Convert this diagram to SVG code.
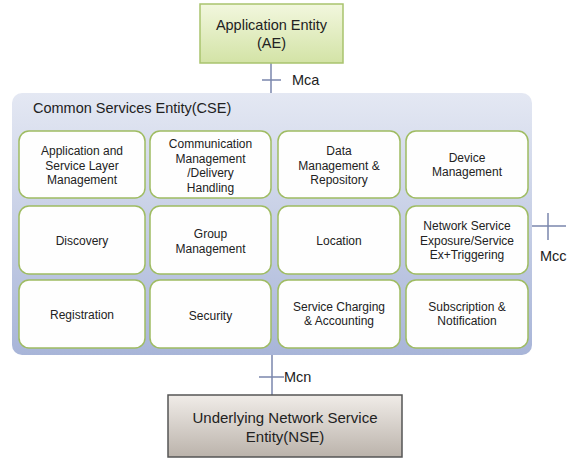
<svg xmlns="http://www.w3.org/2000/svg" width="575" height="459" viewBox="0 0 575 459">
<defs>
<linearGradient id="gAE" x1="0" y1="0" x2="0" y2="1"><stop offset="0" stop-color="#f2f7de"/><stop offset="1" stop-color="#d3e3a6"/></linearGradient>
<linearGradient id="gCSE" x1="0" y1="0" x2="0" y2="1"><stop offset="0" stop-color="#e4e8f3"/><stop offset="1" stop-color="#a8b5d8"/></linearGradient>
<linearGradient id="gNSE" x1="0" y1="0" x2="0" y2="1"><stop offset="0" stop-color="#f0ece8"/><stop offset="1" stop-color="#bbb3ab"/></linearGradient>
<style>
text{font-family:"Liberation Sans",Arial,sans-serif;fill:#222;}
.t{font-size:12px;text-anchor:middle;}
.big{font-size:14.5px;text-anchor:middle;}
.lbl{font-size:14.5px;}
.box{fill:#fefefe;stroke:#9fbc62;stroke-width:1.5;}
.ln{stroke:#7b87ad;stroke-width:1.5;fill:none;}
</style>
</defs>
<g id="connectors">
<path class="ln" d="M271 63V93M262 80H281"/>
<path class="ln" d="M532 226H566M548 213V240"/>
<path class="ln" d="M272 355V395M259 377H284"/>
<text class="lbl" x="292" y="85">Mca</text>
<text class="lbl" x="540" y="261">Mcc</text>
<text class="lbl" x="284" y="382">Mcn</text>
</g>
<g id="ae">
<rect x="200" y="4" width="143" height="59" fill="url(#gAE)" stroke="#a9c36e" stroke-width="1.5"/>
<text class="big" x="271.5" y="30">Application Entity</text>
<text class="big" x="271.5" y="48">(AE)</text>
</g>
<g id="cse">
<rect x="12" y="93" width="520" height="262" rx="10" fill="url(#gCSE)"/>
<text x="33" y="113" style="font-size:14.5px">Common Services Entity(CSE)</text>
</g>
<g id="n1"><rect class="box" x="19" y="131" width="126" height="67" rx="10"/>
<text class="t" x="82" y="155">Application and</text><text class="t" x="82" y="169.5">Service Layer</text><text class="t" x="82" y="184">Management</text></g>
<g id="n2"><rect class="box" x="150" y="131" width="121" height="67" rx="10"/>
<text class="t" x="210.5" y="147.5">Communication</text><text class="t" x="210.5" y="162.5">Management</text><text class="t" x="210.5" y="177">/Delivery</text><text class="t" x="210.5" y="192">Handling</text></g>
<g id="n3"><rect class="box" x="278" y="131" width="122" height="67" rx="10"/>
<text class="t" x="339" y="155">Data</text><text class="t" x="339" y="169.5">Management &amp;</text><text class="t" x="339" y="184">Repository</text></g>
<g id="n4"><rect class="box" x="406" y="131" width="122" height="67" rx="10"/>
<text class="t" x="467" y="162">Device</text><text class="t" x="467" y="176">Management</text></g>
<g id="n5"><rect class="box" x="19" y="206" width="126" height="68" rx="10"/>
<text class="t" x="82" y="244.5">Discovery</text></g>
<g id="n6"><rect class="box" x="150" y="206" width="121" height="68" rx="10"/>
<text class="t" x="210.5" y="237.5">Group</text><text class="t" x="210.5" y="253">Management</text></g>
<g id="n7"><rect class="box" x="278" y="206" width="122" height="68" rx="10"/>
<text class="t" x="339" y="244.5">Location</text></g>
<g id="n8"><rect class="box" x="406" y="206" width="122" height="68" rx="10"/>
<text class="t" x="467" y="229.5">Network Service</text><text class="t" x="467" y="244.5">Exposure/Service</text><text class="t" x="467" y="258.5">Ex+Triggering</text></g>
<g id="n9"><rect class="box" x="19" y="280" width="126" height="68" rx="10"/>
<text class="t" x="82" y="318.5">Registration</text></g>
<g id="n10"><rect class="box" x="150" y="280" width="121" height="68" rx="10"/>
<text class="t" x="210.5" y="319.5">Security</text></g>
<g id="n11"><rect class="box" x="278" y="280" width="122" height="68" rx="10"/>
<text class="t" x="339" y="311">Service Charging</text><text class="t" x="339" y="325">&amp; Accounting</text></g>
<g id="n12"><rect class="box" x="406" y="280" width="122" height="68" rx="10"/>
<text class="t" x="467" y="311">Subscription &amp;</text><text class="t" x="467" y="325">Notification</text></g>
<g id="nse">
<rect x="168" y="395" width="234" height="62" fill="url(#gNSE)" stroke="#555" stroke-width="1.5"/>
<text class="big" x="285" y="423" style="font-size:15px">Underlying Network Service</text>
<text class="big" x="285" y="442" style="font-size:15px">Entity(NSE)</text>
</g>
</svg>
